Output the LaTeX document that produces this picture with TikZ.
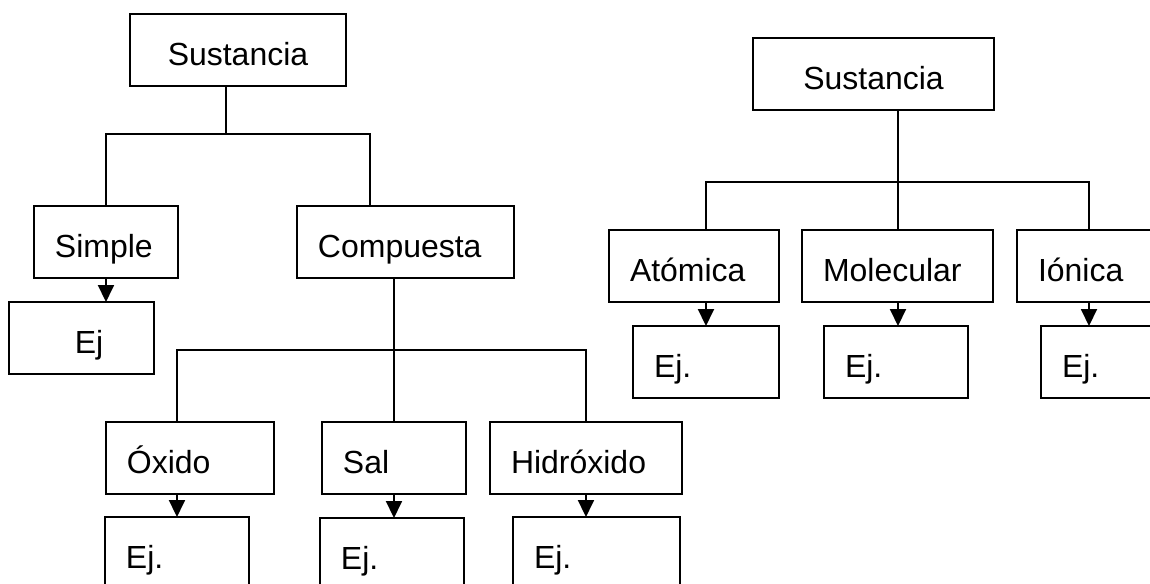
\documentclass[tikz,border=0pt]{standalone}
\usepackage{fontspec}
\setmainfont{Liberation Sans}
\usepackage{xcolor}
\usepackage{tikz}
\usetikzlibrary{arrows.meta}
\definecolor{ink}{HTML}{000000}

\begin{document}
\begin{tikzpicture}[
  x=0.02cm, y=-0.02cm,
  box/.style={draw=ink, line width=1.1pt, anchor=north west, outer sep=0pt, minimum height=1.44cm, text height=0.6cm, text depth=0pt, inner xsep=0.42cm, align=left, font=\fontsize{18.2}{22}\selectfont\color{ink}},
  link/.style={draw=ink, line width=1.1pt},
  arr/.style={link, -{Triangle[length=0.34cm, width=0.32cm]}}
]
  \useasboundingbox (0,0) rectangle (1150,583);
  \clip (0,0) rectangle (1150,583);

  \node[box, text width=3.48cm, align=center] (sus1) at (130,14) {Sustancia};
  \node[box, text width=2.04cm] (simple) at (34,206) {Simple};
  \node[box, text width=2.06cm, align=center] (ej1) at (9,302) {\hspace*{0.3cm}Ej};
  \node[box, text width=3.50cm] (comp) at (297,206) {Compuesta};
  \node[box, text width=2.52cm] (oxido) at (106,422) {Óxido};
  \node[box, text width=2.04cm] (ejox) at (105,517) {Ej.};
  \node[box, text width=2.04cm] (sal) at (322,422) {Sal};
  \node[box, text width=2.04cm] (ejsal) at (320,518) {Ej.};
  \node[box, text width=3.00cm] (hid) at (490,422) {Hidróxido};
  \node[box, text width=2.50cm] (ejhid) at (513,517) {Ej.};

  \node[box, text width=3.98cm, align=center] (sus2) at (753,38) {Sustancia};
  \node[box, text width=2.56cm] (atom) at (609,230) {Atómica};
  \node[box, text width=2.08cm] (ejat) at (633,326) {Ej.};
  \node[box, text width=2.98cm] (mol) at (802,230) {Molecular};
  \node[box, text width=2.04cm] (ejmol) at (824,326) {Ej.};
  \node[box, text width=2.62cm] (ion) at (1017,230) {Iónica};
  \node[box, text width=2.14cm] (ejion) at (1041,326) {Ej.};

  \coordinate (j1) at (226,134);
  \coordinate (t1) at (370,134);
  \coordinate (b2) at (0,350);
  \coordinate (molx) at (898,182);
  \coordinate (ionx) at (1089,182);

  \draw[link] (j1 |- sus1.south) -- (j1);
  \draw[link] (simple.north) |- (t1) -- (t1 |- comp.north);
  \draw[arr] (simple.south) -- (simple.south |- ej1.north);
  \draw[link] (comp.south -| sal.north) -- (sal.north);
  \draw[link] (ejox.north |- oxido.north) |- (b2 -| hid.north) -- (hid.north);
  \draw[arr] (ejox.north |- oxido.south) -- (ejox.north);
  \draw[arr] (sal.south) -- (sal.south |- ejsal.north);
  \draw[arr] (hid.south) -- (hid.south |- ejhid.north);

  \draw[link] (molx |- sus2.south) -- (molx |- mol.north);
  \draw[link] (ejat.north |- atom.north) |- (ionx) -- (ionx |- ion.north);
  \draw[arr] (ejat.north |- atom.south) -- (ejat.north);
  \draw[arr] (molx |- mol.south) -- (molx |- ejmol.north);
  \draw[arr] (ionx |- ion.south) -- (ionx |- ejion.north);
\end{tikzpicture}
\end{document}
